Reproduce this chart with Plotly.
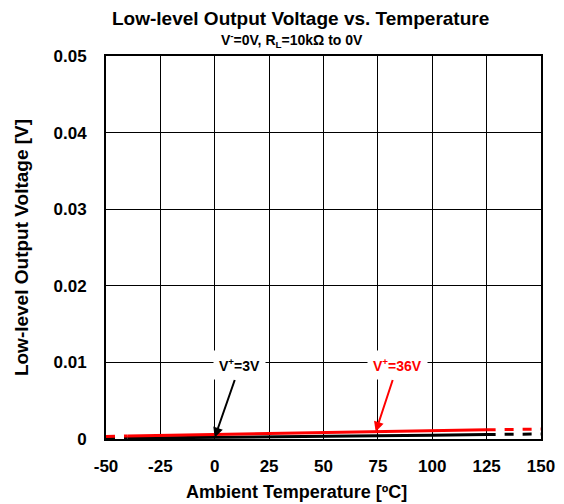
import plotly.graph_objects as go

temp_solid = [-40, 0, 25, 50, 75, 100, 125]
red_solid = [0.0004, 0.0006, 0.0007, 0.0008, 0.0009, 0.00105, 0.0012]
black_solid = [0.00012, 0.0002, 0.00028, 0.00035, 0.00042, 0.0005, 0.00058]
temp_ext_lo = [-50, -40]
red_ext_lo = [0.00032, 0.0004]
black_ext_lo = [0.0001, 0.00012]
temp_ext_hi = [125, 150]
red_ext_hi = [0.0012, 0.0013]
black_ext_hi = [0.00058, 0.00066]

x_ticks = [-50, -25, 0, 25, 50, 75, 100, 125, 150]
y_ticks = [0, 0.01, 0.02, 0.03, 0.04, 0.05]
y_labels = ["0", "0.01", "0.02", "0.03", "0.04", "0.05"]

fig = go.Figure()
for xs, ys, col, dash in [
    (temp_ext_lo, black_ext_lo, "black", "dash"),
    (temp_solid, black_solid, "black", "solid"),
    (temp_ext_hi, black_ext_hi, "black", "dash"),
    (temp_ext_lo, red_ext_lo, "red", "dash"),
    (temp_solid, red_solid, "red", "solid"),
    (temp_ext_hi, red_ext_hi, "red", "dash"),
]:
    fig.add_trace(go.Scatter(x=xs, y=ys, mode="lines",
                             line=dict(color=col, width=3, dash=dash),
                             showlegend=False, hoverinfo="skip"))

font = "Liberation Sans, Arial, sans-serif"
fig.add_annotation(x=0, y=0.0002, ax=11.5, ay=0.0096, xref="x", yref="y",
                   axref="x", ayref="y", text="<b>V<sup>+</sup>=3V</b>",
                   showarrow=True, arrowhead=2, arrowsize=1, arrowwidth=2,
                   arrowcolor="black", bgcolor="white", borderpad=5,
                   font=dict(family=font, size=14, color="black"))
fig.add_annotation(x=74, y=0.00095, ax=84, ay=0.0096, xref="x", yref="y",
                   axref="x", ayref="y", text="<b>V<sup>+</sup>=36V</b>",
                   showarrow=True, arrowhead=2, arrowsize=1, arrowwidth=2,
                   arrowcolor="red", bgcolor="white", borderpad=5,
                   font=dict(family=font, size=14, color="red"))

fig.add_annotation(x=0.446, y=1, xref="paper", yref="paper", yanchor="middle",
                   yshift=38, showarrow=False,
                   text="<b>Low-level Output Voltage vs. Temperature</b>",
                   font=dict(family=font, size=19, color="black"))
fig.add_annotation(x=0.428, y=1, xref="paper", yref="paper", yanchor="middle",
                   yshift=16, showarrow=False,
                   text="<b>V<sup>-</sup>=0V, R<sub>L</sub>=10kΩ to 0V</b>",
                   font=dict(family=font, size=14, color="black"))
fig.add_annotation(x=0.439, y=0, xref="paper", yref="paper", yanchor="middle",
                   yshift=-53, showarrow=False,
                   text="<b>Ambient Temperature [ºC]</b>",
                   font=dict(family=font, size=18, color="black"))

axis_common = dict(showgrid=True, gridcolor="black", gridwidth=1,
                   showline=True, linecolor="black", linewidth=2, mirror=True,
                   zeroline=False, ticks="",
                   tickfont=dict(family=font, size=17, color="black"))
fig.update_xaxes(range=[-50, 150], tickvals=x_ticks,
                 ticktext=[f"<b>{v}</b>" for v in x_ticks],
                 ticklabelstandoff=11,
                 **axis_common)
fig.update_yaxes(range=[0, 0.05], tickvals=y_ticks,
                 ticktext=[f"<b>{v}</b>" for v in y_labels],
                 ticklabelstandoff=14,
                 title=dict(text="<b>Low-level Output Voltage [V]</b>",
                            font=dict(family=font, size=19, color="black"),
                            standoff=20),
                 **axis_common)
fig.update_layout(width=564, height=504, plot_bgcolor="white",
                  paper_bgcolor="white",
                  margin=dict(l=98, r=31, t=48, b=73, autoexpand=False))
fig.write_html("out.html")
